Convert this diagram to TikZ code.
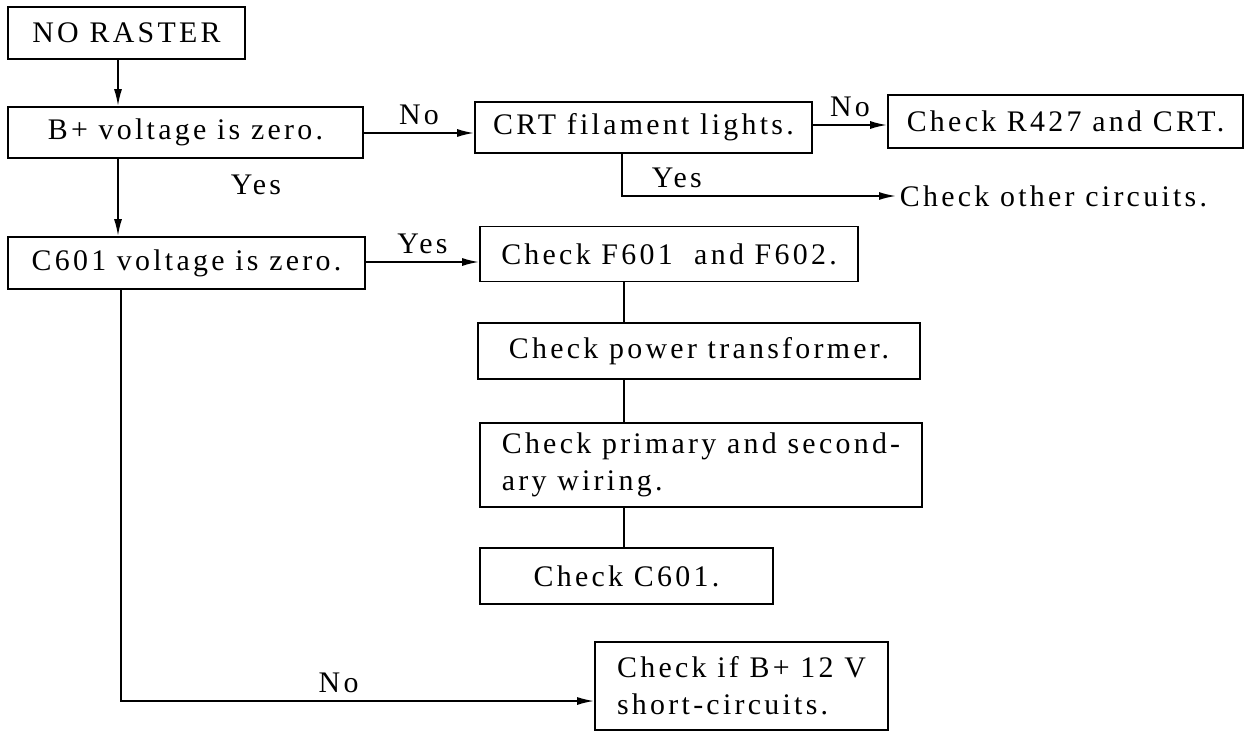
\documentclass[tikz,border=0pt]{standalone}
\usepackage{fontspec}
\setmainfont{Liberation Serif}[LetterSpace=11]
\usepackage{tikz}
\usetikzlibrary{arrows.meta}

\begin{document}
\begin{tikzpicture}[
    font=\fontsize{17}{21}\selectfont,
    stepbox/.style={draw, line width=1pt, inner sep=4pt, align=center},
    lbl/.style={inner sep=4pt},
    flow/.style={line width=1pt},
    arr/.style={flow, -{Latex[length=3.4mm,width=1.6mm]}}
]
\useasboundingbox (0,0) rectangle (24.98,-14.64);
% Boxes
\node[stepbox, minimum width=4.74cm, minimum height=1.04cm] (raster) at (2.53,-0.66) {NO RASTER};
\node[stepbox, minimum width=7.10cm, minimum height=1.02cm] (bzero) at (3.71,-2.65) {B+ voltage is zero.};
\node[stepbox, minimum width=6.74cm, minimum height=1.02cm] (crt) at (12.87,-2.55) {CRT filament lights.};
\node[stepbox, minimum width=7.10cm, minimum height=1.06cm] (rcrt) at (21.31,-2.43) {Check R427 and CRT.};
\node[anchor=west, inner sep=2pt] (other) at (17.92,-3.92) {Check other circuits.};
\node[stepbox, minimum width=7.14cm, minimum height=1.04cm] (czero) at (3.73,-5.26) {C601 voltage is zero.};
\node[stepbox, minimum width=7.56cm, minimum height=1.10cm] (fuse) at (13.38,-5.08) {Check F601~~and F602.};
\node[stepbox, minimum width=8.84cm, minimum height=1.12cm] (trans) at (13.98,-7.02) {Check power transformer.};
\node[stepbox, minimum width=8.84cm, minimum height=1.68cm, align=left] (wiring) at (14.02,-9.30) {Check primary and second-\\ary wiring.};
\node[stepbox, minimum width=5.86cm, minimum height=1.12cm] (ccap) at (12.53,-11.52) {Check C601.};
\node[stepbox, minimum width=5.86cm, minimum height=1.76cm, align=left] (short) at (14.83,-13.72) {Check if B+ 12 V\\short-circuits.};
% Guide points for the connectors
\coordinate (sa) at (2.36,0);
\coordinate (sb) at (0,-2.66);
\coordinate (sc) at (0,-2.50);
\coordinate (sd) at (12.44,0);
\coordinate (se) at (0,-5.24);
\coordinate (sf) at (12.48,0);
\coordinate (sg) at (2.42,-14.02);
% Connectors
\draw[arr] (raster.south -| sa) -- (bzero.north -| sa);
\draw[arr] (bzero.east |- sb) -- node[lbl, above] (lno1) {No} (crt.west |- sb);
\draw[arr] (crt.east |- sc) -- node[lbl, above] (lno2) {No} (rcrt.west |- sc);
\draw[arr] (crt.south -| sd) |- node[lbl, pos=0.6, above] (lyes1) {Yes} (other.west);
\draw[arr] (bzero.south -| sa) -- (czero.north -| sa);
\node[lbl] (lyes2) at (5.12,-3.70) {Yes};
\draw[arr] (czero.east |- se) -- node[lbl, above] (lyes3) {Yes} (fuse.west |- se);
\foreach \a/\b in {fuse/trans, trans/wiring, wiring/ccap}
    \draw[flow] (\a.south -| sf) -- (\b.north -| sf);
\draw[arr] (czero.south -| sg) |- node[lbl, pos=0.73, above] (lno3) {No} (short.west |- sg);
\end{tikzpicture}
\end{document}
